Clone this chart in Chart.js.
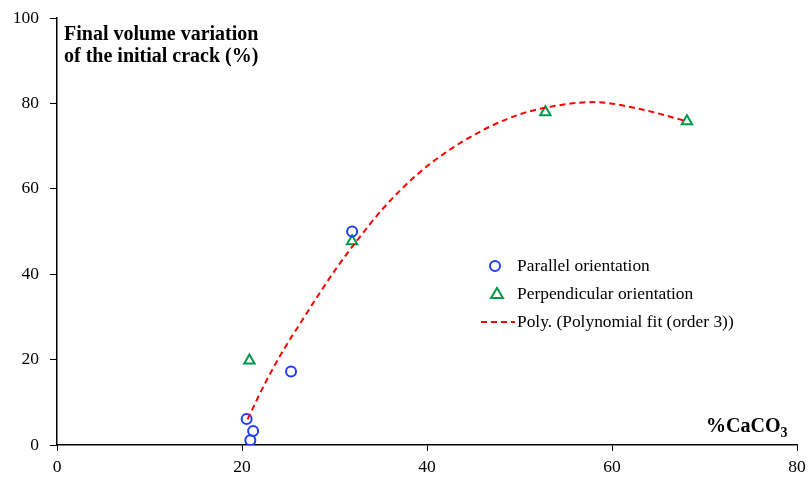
<!DOCTYPE html>
<html>
<head>
<meta charset="utf-8">
<script src="https://cdn.jsdelivr.net/npm/chart.js@4/dist/chart.umd.min.js"></script>
<style>
  html, body { margin: 0; padding: 0; background: #fff; }
  #wrap { width: 808px; height: 477px; }
</style>
</head>
<body>
<div id="wrap"><canvas id="volChart" width="808" height="477"></canvas></div>
<script>
// values
var parallelX = [20.5, 21.2, 20.9, 25.3, 31.9];
var parallelY = [6.1, 3.3, 1.1, 17.2, 50.0];

var perpX = [20.8, 31.9, 52.8, 68.1];
var perpY = [19.8, 47.7, 77.9, 75.8];

// points
var fitX = [20.6, 22.5, 24.5, 26.3, 28.4, 30.6, 32.3, 35.3, 38.9, 42.5, 46.1, 49.7, 52.8, 58.0, 63.0, 68.1];
var fitY = [6.0, 14.5, 22.3, 28.5, 35.6, 42.6, 47.5, 55.5, 63.3, 69.2, 73.8, 77.2, 79.0, 80.3, 78.7, 75.8];

var xTicks = [0, 20, 40, 60, 80];
var yTicks = [0, 20, 40, 60, 80, 100];

var titleLines = ['Final volume variation', 'of the initial crack (%)'];
var legendLabels = ['Parallel orientation', 'Perpendicular orientation', 'Poly. (Polynomial fit (order 3))'];

function pts(xs, ys) {
    return xs.map(function (x, i) { return { x: x, y: ys[i] }; });
}

var serif = "'Liberation Serif', 'Times New Roman', serif";

var extras = {
    id: 'extras',
    afterDraw: function (chart) {
        var c = chart.ctx;
        var area = chart.chartArea;
        c.save();
        c.fillStyle = '#000';
        c.textBaseline = 'middle';
        c.textAlign = 'left';

        // y title inside the plot
        c.font = 'bold 20px ' + serif;
        c.fillText(titleLines[0], area.left + 7, 35);
        c.fillText(titleLines[1], area.left + 7, 57);

        // x title with subscript
        var base = '%CaCO';
        c.font = 'bold 20px ' + serif;
        var w = c.measureText(base).width;
        var xs = 706;
        c.fillText(base, xs, 427);
        c.font = 'bold 14px ' + serif;
        c.fillText('3', xs + w, 433);

        // legend
        var lx = 495, ly = [266, 294, 322];
        c.font = '17.4px ' + serif;
        c.lineWidth = 2;
        c.strokeStyle = '#1f3dff';
        c.beginPath();
        c.arc(lx, ly[0], 5, 0, Math.PI * 2);
        c.stroke();
        c.strokeStyle = '#00994a';
        c.beginPath();
        c.moveTo(lx + 2, ly[1] - 6);
        c.lineTo(lx + 8, ly[1] + 4);
        c.lineTo(lx - 4, ly[1] + 4);
        c.closePath();
        c.stroke();
        c.strokeStyle = '#ff0000';
        c.setLineDash([6, 4]);
        c.beginPath();
        c.moveTo(481, ly[2]);
        c.lineTo(515, ly[2]);
        c.stroke();
        c.setLineDash([]);

        c.fillStyle = '#000';
        c.fillText(legendLabels[0], 517, ly[0]);
        c.fillText(legendLabels[1], 517, ly[1]);
        c.fillText(legendLabels[2], 517, ly[2]);
        c.restore();
    }
};

var ctx = document.getElementById('volChart').getContext('2d');
var volChart = new Chart(ctx, {
    type: 'scatter',
    data: {
        datasets: [{
            label: legendLabels[2],
            data: pts(fitX, fitY),
            showLine: true,
            borderColor: '#ff0000',
            borderWidth: 2,
            borderDash: [6, 4],
            pointRadius: 0,
            cubicInterpolationMode: 'monotone',
            fill: false
        }, {
            label: legendLabels[0],
            data: pts(parallelX, parallelY),
            pointStyle: 'circle',
            pointRadius: 5,
            borderWidth: 2,
            borderColor: '#1f3dff',
            backgroundColor: 'rgba(0,0,0,0)'
        }, {
            label: legendLabels[1],
            data: pts(perpX, perpY),
            pointStyle: 'triangle',
            pointRadius: 6,
            borderWidth: 2,
            borderColor: '#00994a',
            backgroundColor: 'rgba(0,0,0,0)'
        }]
    },
    options: {
        responsive: false,
        animation: false,
        layout: { padding: { top: 18, right: 11, left: 0, bottom: 0 } },
        plugins: {
            legend: { display: false },
            tooltip: { enabled: false }
        },
        scales: {
            x: {
                type: 'linear',
                min: 0, max: 80,
                afterBuildTicks: function (s) { s.ticks = xTicks.map(function (v) { return { value: v }; }); },
                afterFit: function (s) { s.height = 32; s.paddingLeft = 0; s.paddingRight = 0; },
                border: { display: true, color: '#000', width: 1.5 },
                grid: { display: true, drawOnChartArea: false, drawTicks: true, tickLength: 6, color: '#000' },
                ticks: { color: '#000', padding: 6, maxRotation: 0, font: { family: serif, size: 17.5 } }
            },
            y: {
                min: 0, max: 100,
                afterBuildTicks: function (s) { s.ticks = yTicks.map(function (v) { return { value: v }; }); },
                afterFit: function (s) { s.width = 57; s.paddingTop = 0; s.paddingBottom = 0; },
                border: { display: true, color: '#000', width: 1.5 },
                grid: { display: true, drawOnChartArea: false, drawTicks: true, tickLength: 7, color: '#000' },
                ticks: { color: '#000', padding: 11, font: { family: serif, size: 17.5 } }
            }
        }
    },
    plugins: [extras]
});
</script>
</body>
</html>
